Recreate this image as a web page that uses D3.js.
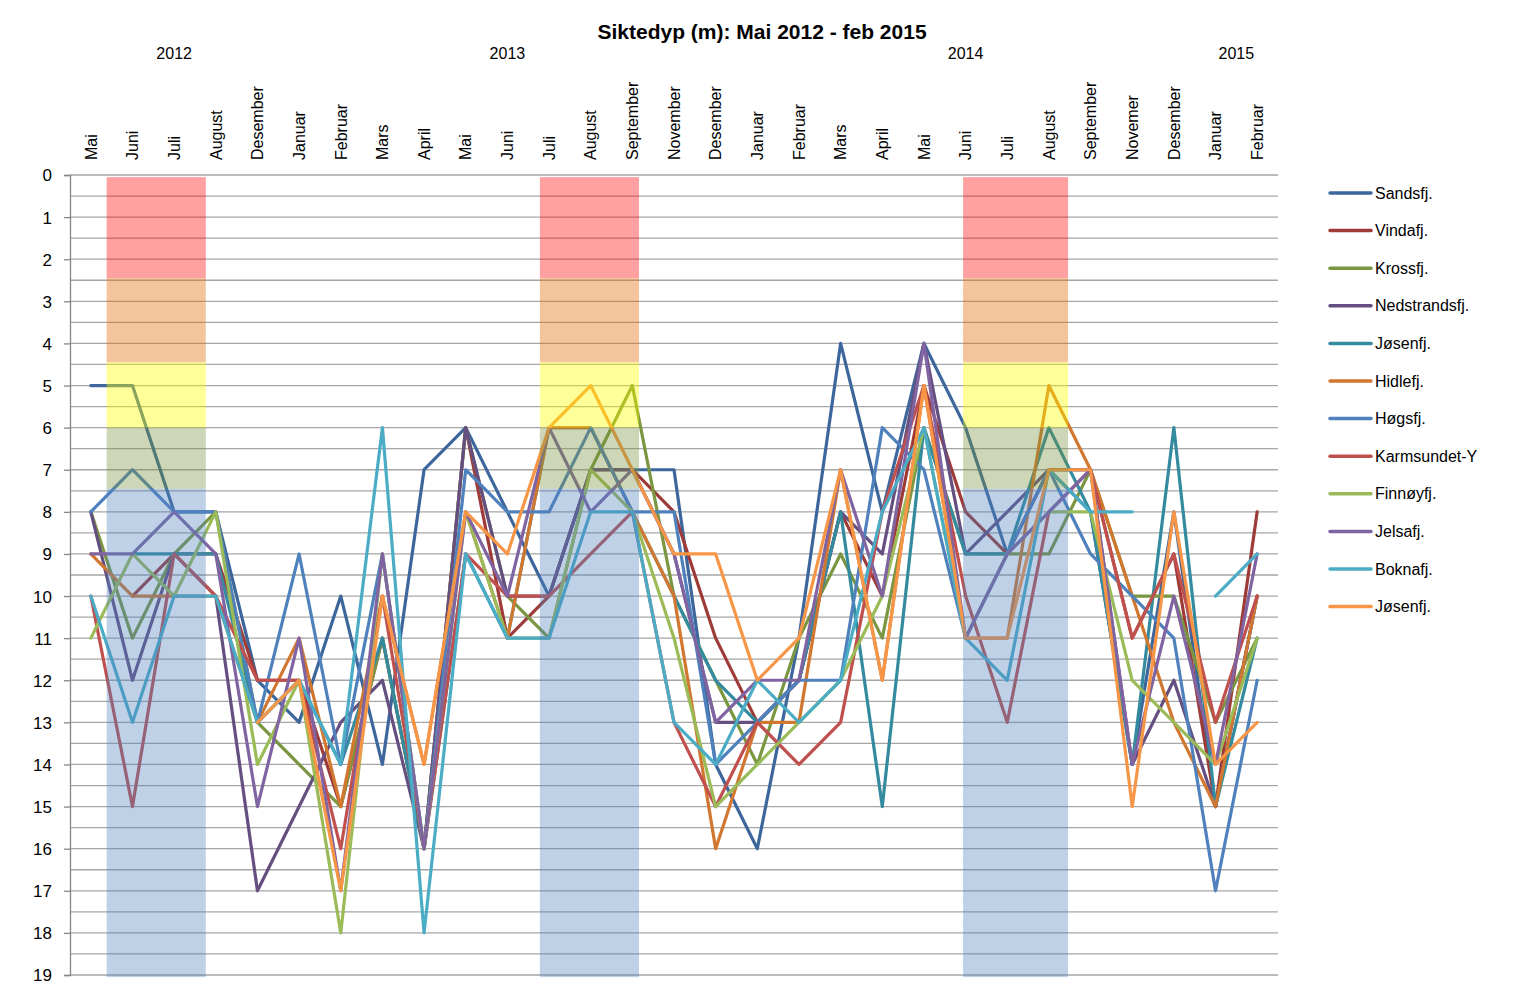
<!DOCTYPE html>
<html><head><meta charset="utf-8">
<script src="https://cdn.jsdelivr.net/npm/d3@7"></script>
<style>body{margin:0;background:#fff;} svg{display:block;font-family:"Liberation Sans",Arial,sans-serif;}</style>
</head><body>
<script>
const categories = ["Mai","Juni","Juli","August","Desember","Januar","Februar","Mars","April","Mai","Juni","Juli","August","September","November","Desember","Januar","Februar","Mars","April","Mai","Juni","Juli","August","September","Novemer","Desember","Januar","Februar"];
const years = ["2012","2013","2014","2015"];
const yearPos = [2, 10, 21, 27.5];
const yTicks = d3.range(0, 20);

const seriesNames = ["Sandsfj.","Vindafj.","Krossfj.","Nedstrandsfj.","Jøsenfj.","Hidlefj.","Høgsfj.","Karmsundet-Y","Finnøyfj.","Jelsafj.","Boknafj.","Jøsenfj."];
const seriesColors = ["#3D679C","#9E3B38","#7A9640","#654E80","#348A9E","#D2772F","#4F81BD","#C0504D","#9BBB59","#8064A2","#4BACC6","#F79646"];

const sandsfj      = [5,5,8,8,12,13,10,14,7,6,8,10,7,7,7,14,16,11,4,8,4,6,9,7,8,14,8,15,10];
const vindafj      = [null,10,9,9,12,12,15,11,16,6,11,10,7,7,8,11,13,12,8,10,5,8,9,7,7,11,9,15,8];
const krossfj      = [8,11,9,8,13,14,15,11,16,6,10,11,7,5,10,12,14,11,9,11,6,9,9,9,7,10,10,13,11];
const nedstrandsfj = [8,12,9,10,17,15,13,12,16,6,10,10,7,7,9,13,13,12,8,9,4,9,8,7,7,14,12,15,10];
const josenfj      = [null,9,9,9,13,12,14,11,16,9,11,6,6,8,10,12,13,12,8,15,6,9,9,6,8,14,6,15,11];
const hidlefj      = [9,10,10,10,13,11,15,10,14,8,11,6,6,8,10,16,13,13,7,12,5,11,11,5,7,10,13,15,10];
const hogsfj       = [8,7,8,8,13,9,14,9,16,7,8,8,6,8,8,14,13,12,12,6,7,11,9,7,9,10,11,17,12];
const karmsundet   = [10,15,9,10,12,12,16,10,16,9,10,10,9,8,13,15,13,14,13,8,5,10,13,8,7,11,9,13,10];
const finnoyfj     = [11,9,10,8,14,12,18,9,16,8,11,11,7,8,11,15,14,13,12,10,6,11,9,8,8,12,13,14,11];
const jelsafj      = [9,9,8,9,15,11,17,9,16,8,10,6,8,7,9,13,12,12,7,10,4,11,9,8,7,14,10,14,9];
const boknafj      = [10,13,10,10,13,12,14,6,18,9,11,11,8,8,13,14,12,13,12,8,6,11,12,7,8,8,null,10,9];
const josenfj2     = [null,null,null,null,13,12,17,10,14,8,9,6,5,7,9,9,12,11,7,12,5,11,11,7,7,15,8,14,13];
const seriesValues = [sandsfj,vindafj,krossfj,nedstrandsfj,josenfj,hidlefj,hogsfj,karmsundet,finnoyfj,jelsafj,boknafj,josenfj2];

// summer bands (category-index spans) and depth levels
const bandSpans = [[0.38,2.76],[10.78,13.16],[20.94,23.46]];
const bandLevels = [0.05,2.45,4.45,6,7.45,19.05];
const bandColors = ["#FF0000","#E46C0A","#FFFF00","#77933C","#4F81BD"];
const bandOpacity = [0.37,0.4,0.4,0.37,0.37];

const W = 1524, H = 996;
const svg = d3.select("body").append("svg").attr("width", W).attr("height", H);

const x = d3.scaleLinear().domain([-0.5, categories.length - 0.5]).range([70, 1278]);
const y = d3.scaleLinear().domain([0, 19]).range([175, 975]);

// gridlines every 0.5
svg.append("g").selectAll("line").data(d3.range(0, 19.01, 0.5)).join("line")
  .attr("x1", x(-0.5)).attr("x2", x(categories.length - 0.5))
  .attr("y1", d => y(d)).attr("y2", d => y(d))
  .attr("stroke", "#A6A6A6").attr("stroke-width", 1.3);

// y axis
const yAxis = d3.axisLeft(y).tickValues(yTicks).tickSize(6).tickFormat(d3.format("d"));
const ya = svg.append("g").attr("transform", `translate(${x(-0.5)},0)`).call(yAxis);
ya.select(".domain").attr("stroke", "#868686").attr("stroke-width", 1.3);
ya.selectAll(".tick line").attr("stroke", "#868686").attr("stroke-width", 1.3);
ya.selectAll("text").attr("font-size", 17).attr("fill", "#000").attr("x", -18).attr("dy", "0.35em");

// lines
const line = d3.line().defined(d => d != null).x((d, i) => x(i)).y(d => y(d));
svg.append("g").selectAll("path").data(seriesValues).join("path")
  .attr("d", d => line(d))
  .attr("fill", "none")
  .attr("stroke", (d, i) => seriesColors[i])
  .attr("stroke-width", 3.2)
  .attr("stroke-linejoin", "round").attr("stroke-linecap", "round");

// translucent bands on top
const bandData = [];
bandSpans.forEach(s => { for (let k = 0; k < bandColors.length; k++) bandData.push({s, k}); });
svg.append("g").selectAll("rect").data(bandData).join("rect")
  .attr("x", d => x(d.s[0])).attr("width", d => x(d.s[1]) - x(d.s[0]))
  .attr("y", d => y(bandLevels[d.k])).attr("height", d => y(bandLevels[d.k + 1]) - y(bandLevels[d.k]))
  .attr("fill", d => bandColors[d.k]).attr("fill-opacity", d => bandOpacity[d.k]);

// category labels (rotated)
svg.append("g").selectAll("text").data(categories).join("text")
  .attr("transform", (d, i) => `translate(${x(i)},160) rotate(-90)`)
  .attr("dy", "0.36em").attr("text-anchor", "start")
  .attr("font-size", 16).attr("fill", "#000").text(d => d);

// year labels
svg.append("g").selectAll("text").data(years).join("text")
  .attr("x", (d, i) => x(yearPos[i])).attr("y", 59)
  .attr("text-anchor", "middle").attr("font-size", 16).attr("fill", "#000").text(d => d);

// title
svg.append("text").attr("x", 762).attr("y", 39).attr("text-anchor", "middle")
  .attr("font-size", 21).attr("font-weight", "bold").attr("fill", "#000")
  .text("Siktedyp (m): Mai 2012 - feb 2015");

// legend
const lg = svg.append("g").attr("transform", "translate(1330,193)");
const items = lg.selectAll("g").data(seriesNames).join("g")
  .attr("transform", (d, i) => `translate(0,${i * 37.6})`);
items.append("line").attr("x1", 0).attr("x2", 41).attr("y1", 0).attr("y2", 0)
  .attr("stroke", (d, i) => seriesColors[i]).attr("stroke-width", 3.5).attr("stroke-linecap", "round");
items.append("text").attr("x", 45).attr("dy", "0.35em").attr("font-size", 16).attr("fill", "#000").text(d => d);
</script>
</body></html>
